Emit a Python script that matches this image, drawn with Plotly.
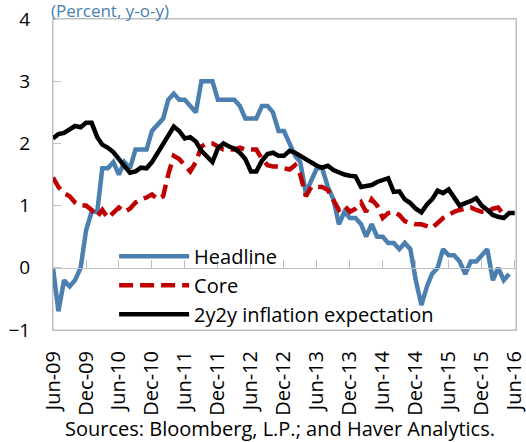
import pandas as pd
import plotly.graph_objects as go

# Monthly dates from Jun-2009
start = "2009-06-01"

headline = [0.0, -0.7, -0.2, -0.3, -0.2, 0.0, 0.6, 0.9, 0.9, 1.6,
            1.6, 1.7, 1.5, 1.7, 1.6, 1.9, 1.9, 1.9, 2.2, 2.3,
            2.4, 2.7, 2.8, 2.7, 2.7, 2.6, 2.5, 3.0, 3.0, 3.0,
            2.7, 2.7, 2.7, 2.7, 2.6, 2.4, 2.4, 2.4, 2.6, 2.6,
            2.5, 2.2, 2.2, 2.0, 1.8, 1.7, 1.2, 1.4, 1.6, 1.6,
            1.3, 1.1, 0.7, 0.9, 0.8, 0.8, 0.7, 0.5, 0.7, 0.5,
            0.5, 0.4, 0.4, 0.3, 0.4, 0.3, -0.2, -0.6, -0.3, -0.1,
            0.0, 0.3, 0.2, 0.2, 0.1, -0.1, 0.1, 0.1, 0.2, 0.3,
            -0.2, 0.0, -0.2, -0.1]

core = [1.45, 1.3, 1.2, 1.15, 1.05, 1.0, 1.0, 0.93, 0.82, 0.93,
        0.8, 0.88, 0.97, 0.9, 0.95, 1.05, 1.1, 1.13, 1.18, 1.1,
        1.15, 1.5, 1.8, 1.75, 1.65, 1.55, 1.7, 1.95, 2.0, 2.0,
        1.95, 1.9, 1.9, 1.9, 1.93, 1.9, 1.9, 1.9, 1.75, 1.65,
        1.63, 1.63, 1.6, 1.58, 1.65, 1.5, 1.15, 1.3, 1.3, 1.3,
        1.25, 1.1, 0.93, 1.0, 0.9, 0.95, 1.05, 0.9, 1.1, 1.0,
        0.8, 0.88, 0.9, 0.85, 0.75, 0.72, 0.7, 0.7, 0.66, 0.64,
        0.72, 0.8, 0.85, 0.9, 0.93, 0.95, 0.97, 0.93, 0.9, 0.9,
        0.95, 0.97, 0.85]

expect2y2y = [2.08, 2.15, 2.17, 2.22, 2.28, 2.26, 2.33, 2.33, 2.1, 1.98,
              1.93, 1.86, 1.76, 1.64, 1.53, 1.55, 1.61, 1.6, 1.7, 1.85,
              2.0, 2.15, 2.27, 2.2, 2.08, 2.1, 2.03, 1.88, 1.78, 1.7,
              1.92, 2.0, 1.95, 1.92, 1.85, 1.75, 1.55, 1.55, 1.72, 1.83,
              1.85, 1.8, 1.8, 1.88, 1.85, 1.8, 1.74, 1.7, 1.64, 1.61,
              1.64, 1.57, 1.53, 1.5, 1.48, 1.47, 1.3, 1.31, 1.33, 1.38,
              1.42, 1.44, 1.22, 1.23, 1.1, 1.04, 0.95, 0.89, 1.02, 1.1,
              1.24, 1.2, 1.26, 1.12, 1.0, 1.04, 1.07, 1.12, 1.0, 0.93,
              0.85, 0.82, 0.8, 0.88, 0.88]

tick_labels = ["Jun-09", "Dec-09", "Jun-10", "Dec-10", "Jun-11", "Dec-11", "Jun-12",
               "Dec-12", "Jun-13", "Dec-13", "Jun-14", "Dec-14", "Jun-15", "Dec-15", "Jun-16"]

d_head = pd.date_range(start, periods=len(headline), freq="MS")
d_core = pd.date_range(start, periods=len(core), freq="MS")
d_exp = pd.date_range(start, periods=len(expect2y2y), freq="MS")
tick_vals = pd.date_range(start, periods=len(tick_labels), freq="6MS")

FONT = "Open Sans"
GRAY = "#bfbfbf"
xrange = ["2009-06-01", "2016-06-08"]

fig = go.Figure()
fig.add_trace(go.Scatter(x=d_head, y=headline, mode="lines", name="Headline",
                         line=dict(color="#4a7fb0", width=4.5)))
fig.add_trace(go.Scatter(x=d_core, y=core, mode="lines", name="Core",
                         line=dict(color="#c00000", width=4.5, dash="14px,7px")))
fig.add_trace(go.Scatter(x=d_exp, y=expect2y2y, mode="lines", name="2y2y inflation expectation",
                         line=dict(color="#000000", width=4.5)))
fig.add_trace(go.Scatter(x=[], y=[], xaxis="x2", showlegend=False, hoverinfo="skip"))

fig.update_layout(
    width=526, height=442,
    margin=dict(l=53, r=10, t=19, b=112),
    paper_bgcolor="white", plot_bgcolor="white",
    font=dict(family=FONT, size=18, color="#000000"),
    showlegend=True,
    legend=dict(x=0.132, y=0.3, xanchor="left", yanchor="top",
                bgcolor="rgba(0,0,0,0)", font=dict(size=20, family=FONT),
                itemwidth=70, tracegroupgap=0),
    xaxis=dict(type="date", range=xrange, tickvals=tick_vals, ticktext=tick_labels,
               tickangle=-90, showgrid=False, zeroline=False, showline=True,
               linecolor=GRAY, linewidth=1, mirror=True, ticks="",
               ticklabelstandoff=12, tickfont=dict(size=20), automargin=False,
               ticklabeloverflow="allow"),
    xaxis2=dict(type="date", range=xrange, tickvals=tick_vals, overlaying="x",
                anchor="free", position=0.2, side="bottom", showticklabels=False,
                showgrid=False, zeroline=False, showline=True, linecolor=GRAY,
                linewidth=1, ticks="inside", ticklen=8, tickcolor=GRAY, automargin=False),
    yaxis=dict(range=[-1, 4], dtick=1, showgrid=False, zeroline=False,
               showline=True, linecolor=GRAY, linewidth=1, mirror=True,
               ticks="inside", ticklen=8, tickcolor=GRAY,
               ticklabelstandoff=18, tickfont=dict(size=19), automargin=False),
    shapes=[dict(type="rect", xref="paper", yref="paper", x0=0, x1=1, y0=0, y1=1,
                 line=dict(color=GRAY, width=1), fillcolor="rgba(0,0,0,0)", layer="below")],
    annotations=[
        dict(text="(Percent, y-o-y)", xref="paper", yref="paper", x=-0.008, y=1.026,
             xanchor="left", yanchor="middle", showarrow=False,
             font=dict(size=17, color="#4a7fb0", family=FONT)),
        dict(text="Sources: Bloomberg, L.P.; and Haver Analytics.", xref="paper", yref="paper",
             x=0.49, y=-0.318, xanchor="center", yanchor="middle", showarrow=False,
             font=dict(size=20, color="#000000", family=FONT)),
    ],
)

fig.write_html("out.html", config={"displayModeBar": False},
               post_script="document.body.style.margin='0px';")
